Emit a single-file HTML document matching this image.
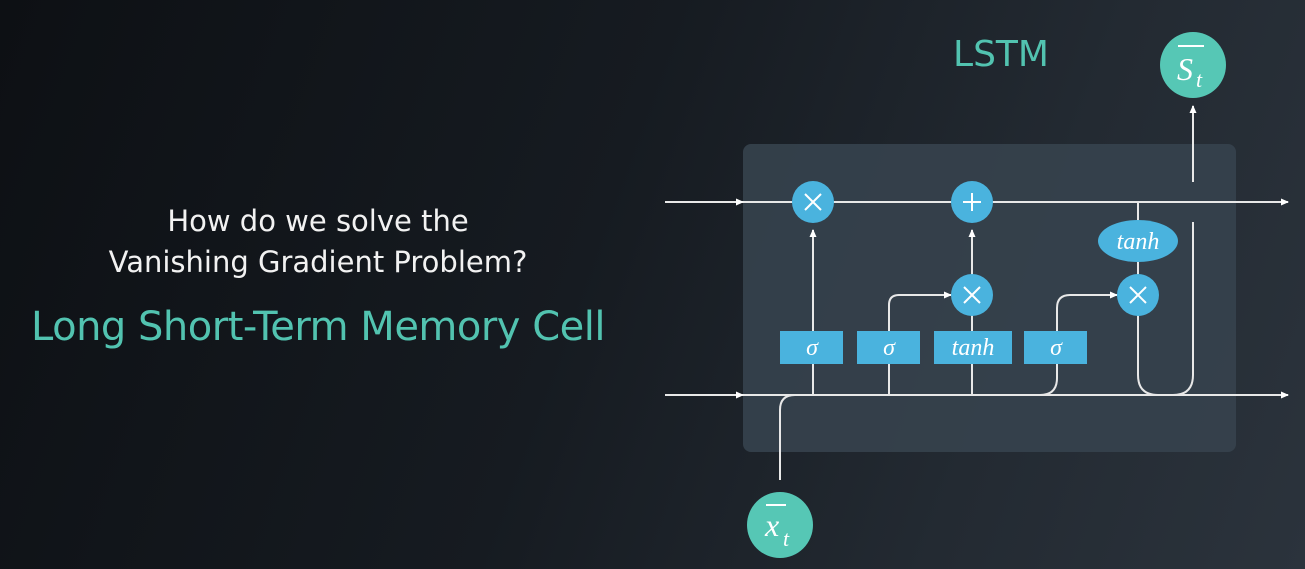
<!DOCTYPE html>
<html><head><meta charset="utf-8"><style>
html,body{margin:0;padding:0}
body{width:1305px;height:569px;overflow:hidden;background:linear-gradient(110deg,#0d1014 0%,#161b21 45%,#232a32 75%,#2b333c 100%);font-family:"Liberation Sans",sans-serif;position:relative}
.t{position:absolute;text-align:center;color:#f2f2f2;font-family:"DejaVu Sans","Liberation Sans",sans-serif}
</style></head><body>
<div class="t" style="left:0;width:636px;top:201px;font-size:29px;line-height:41px;letter-spacing:0px">How do we solve the<br>Vanishing Gradient Problem?</div>
<div class="t" style="left:0;width:636px;top:304px;font-size:40px;color:#52c3b0;letter-spacing:-0.5px">Long Short-Term Memory Cell</div>
<svg width="1305" height="569" style="position:absolute;left:0;top:0">
<defs><marker id="a" markerWidth="8" markerHeight="8" refX="7" refY="4" orient="auto" markerUnits="userSpaceOnUse"><path d="M0,0.5 L8,4 L0,7.5z" fill="#fff"/></marker></defs>
<text x="1001" y="66" font-family="DejaVu Sans,Liberation Sans,sans-serif" font-size="36" fill="#52c3b0" text-anchor="middle">LSTM</text>
<rect x="743" y="144" width="493" height="308" rx="8" fill="#36424e" opacity="0.9"/>
<g stroke="#e8e8e8" stroke-width="2" fill="none">
<line x1="665" y1="202" x2="1288" y2="202" marker-end="url(#a)"/>
<line x1="665" y1="395" x2="1288" y2="395" marker-end="url(#a)"/>
<line x1="665" y1="202" x2="743" y2="202" marker-end="url(#a)"/>
<line x1="665" y1="395" x2="743" y2="395" marker-end="url(#a)"/>
<line x1="813" y1="395" x2="813" y2="230" marker-end="url(#a)"/>
<line x1="972" y1="295" x2="972" y2="230" marker-end="url(#a)"/>
<line x1="972" y1="395" x2="972" y2="315"/>
<path d="M889,395 V305 Q889,295 899,295 H951" marker-end="url(#a)"/>
<path d="M900,395 H1040 Q1057,395 1057,378 V308 Q1057,295 1070,295 H1117" marker-end="url(#a)"/>
<line x1="1138" y1="202" x2="1138" y2="375"/>
<path d="M1138,375 Q1138,395 1158,395 H1173 Q1193,395 1193,375 V222"/>
<line x1="1193" y1="182" x2="1193" y2="106" marker-end="url(#a)"/>
<path d="M780,480 V410 Q780,395 795,395"/>
</g>
<g fill="#4ab3de">
<circle cx="813" cy="202" r="21"/><circle cx="972" cy="202" r="21"/>
<circle cx="972" cy="295" r="21"/><circle cx="1138" cy="295" r="21"/>
<ellipse cx="1138" cy="241" rx="40" ry="21"/>
<rect x="780" y="331" width="63" height="33"/><rect x="857" y="331" width="63" height="33"/>
<rect x="934" y="331" width="78" height="33"/><rect x="1024" y="331" width="63" height="33"/>
</g>
<g stroke="#fff" stroke-width="2">
<path d="M805,194 L821,210 M821,194 L805,210"/>
<path d="M964,287 L980,303 M980,287 L964,303"/>
<path d="M1130,287 L1146,303 M1146,287 L1130,303"/>
<path d="M972,193 V211 M963,202 H981"/>
</g>
<g fill="#fff" font-family="Liberation Serif,serif" font-style="italic" text-anchor="middle" font-size="24">
<text x="812" y="355">σ</text><text x="889" y="355">σ</text><text x="1056" y="355">σ</text>
<text x="973" y="355">tanh</text><text x="1138" y="249">tanh</text>
</g>
<circle cx="1193" cy="65" r="33" fill="#56c7b5"/>
<circle cx="780" cy="525" r="33" fill="#56c7b5"/>
<g fill="#fff" font-family="Liberation Serif,serif" font-style="italic">
<line x1="1178" y1="46" x2="1204" y2="46" stroke="#fff" stroke-width="2"/>
<text x="1177" y="80" font-size="32">S</text><text x="1196" y="87" font-size="22">t</text>
<line x1="766" y1="505" x2="786" y2="505" stroke="#fff" stroke-width="2"/>
<text x="765" y="536" font-size="32">x</text><text x="783" y="546" font-size="22">t</text>
</g>
</svg>
</body></html>
